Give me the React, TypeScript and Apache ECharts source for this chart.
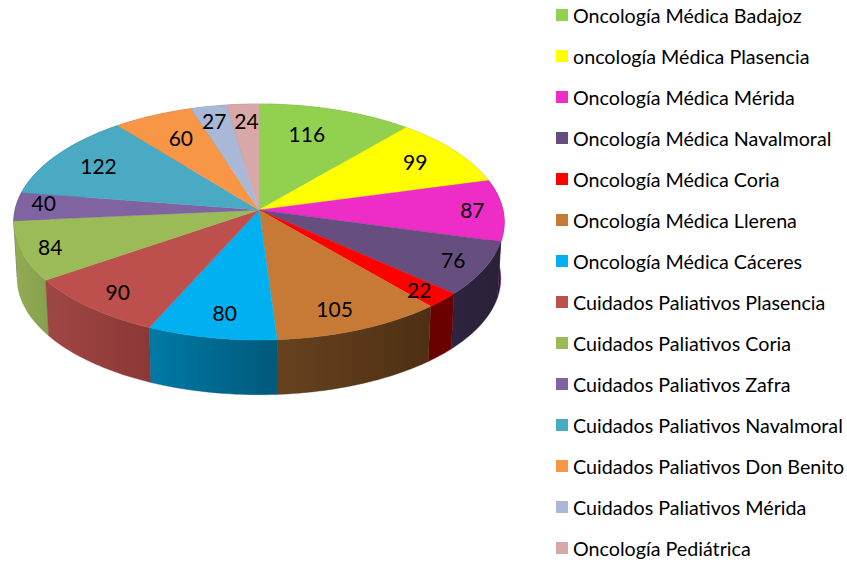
import React, { useEffect, useRef } from "react";
import * as echarts from "echarts";

const categories = [
  "Oncología Médica Badajoz",
  "oncología Médica Plasencia",
  "Oncología Médica Mérida",
  "Oncología Médica Navalmoral",
  "Oncología Médica Coria",
  "Oncología Médica Llerena",
  "Oncología Médica Cáceres",
  "Cuidados Paliativos Plasencia",
  "Cuidados Paliativos Coria",
  "Cuidados Paliativos Zafra",
  "Cuidados Paliativos Navalmoral",
  "Cuidados Paliativos Don Benito",
  "Cuidados Paliativos Mérida",
  "Oncología Pediátrica",
];
const values = [116, 99, 87, 76, 22, 105, 80, 90, 84, 40, 122, 60, 27, 24];
const topColors = ["#92d050", "#ffff00", "#ee2cc8", "#664f7f", "#ff0000", "#c77a35", "#00b0f0", "#bd4f4d", "#9bbb59", "#8064a2", "#4aa9c3", "#f79646", "#a8b8d6", "#d8a7a7"];
const wallStart = ["#5f8a33", "#8f8f00", "#2a2036", "#2e2440", "#6b0000", "#66421f", "#007aa6", "#a04744", "#93ab52", "#5a4673", "#2f7288", "#a9662f", "#76819a", "#977474"];
const wallEnd = ["#5f8a33", "#8f8f00", "#2a2036", "#2a2036", "#6b0000", "#4e2f14", "#00597a", "#8a3836", "#87a04e", "#5a4673", "#2f7288", "#a9662f", "#76819a", "#977474"];
const wallEdge = ["#5f8a33", "#8f8f00", "#9a1a84", "#2a2036", "#6b0000", "#4e2f14", "#00597a", "#8a3836", "#87a04e", "#5a4673", "#2f7288", "#a9662f", "#76819a", "#977474"];
const labelReach = [0.72, 0.8, 0.87, 0.86, 0.88, 0.8, 0.78, 0.84, 0.89, 0.885, 0.79, 0.75, 0.88, 0.82];
const labelNudgeX = [-9, -2, 1, 2, 0, -4, 2, -1, 2, 0, 0, 3, 0, 1];
const labelNudgeY = [-3, -1, -1, -1, 1, 5, 5, 1, 0, -4, 0, 0, 3, -1];

const CX = 259;
const CY = 210;
const RX = 244;
const RY = 116.8;
const K = 0.1017;
const BOTTOM_SCALE = 0.986;
const DEPTH = 56.5;

const total = values.reduce((a, b) => a + b, 0);
const angleAt = (v: number) => (v / total) * Math.PI * 2;
const starts = values.map((_, i) => values.slice(0, i).reduce((a, b) => a + b, 0));

function project(theta: number, r = 1): [number, number] {
  const d = -Math.cos(theta) * r;
  const s = Math.sin(theta) * r;
  const den = 1 - K * d;
  return [CX + (RX * s) / den, CY + (RY * d) / den];
}
function arc(from: number, to: number): [number, number][] {
  const n = Math.max(3, Math.ceil((to - from) / 0.02));
  const out: [number, number][] = [];
  for (let j = 0; j <= n; j++) out.push(project(from + ((to - from) * j) / n));
  return out;
}
const lower = (p: [number, number]): [number, number] => [
  CX + (p[0] - CX) * BOTTOM_SCALE,
  CY + (p[1] - CY) * BOTTOM_SCALE + DEPTH,
];

export default function App() {
  const ref = useRef<HTMLDivElement>(null);
  useEffect(() => {
    document.body.style.margin = "0";
    const chart = echarts.init(ref.current!, null, { renderer: "svg" });
    const series: any[] = [
      {
        type: "custom",
        name: "walls",
        coordinateSystem: "none",
        silent: true,
        z: 1,
        data: values.map((v, i) => [v, i]),
        renderItem: (_p: any, api: any) => {
          const i = api.value(1);
          const a0 = angleAt(starts[i]);
          const a1 = a0 + angleAt(api.value(0));
          const top = arc(a0, a1);
          const bottom = top.map(lower).reverse();
          const mid = (a0 + a1) / 2;
          return {
            type: "polygon",
            z2: Math.round(-Math.cos(mid) * 100) + 100,
            shape: { points: [...top, ...bottom] },
            style: {
              fill: {
                type: "linear", x: 0, y: 0, x2: 1, y2: 0,
                colorStops: [
                  { offset: 0, color: wallStart[i] },
                  { offset: 1, color: wallEnd[i] },
                ],
              },
              stroke: wallEdge[i],
              lineWidth: 0.4,
            },
          };
        },
      },
      ...categories.map((name, i) => ({
        type: "custom",
        name,
        coordinateSystem: "none",
        silent: true,
        z: 2,
        color: topColors[i],
        itemStyle: { color: topColors[i] },
        data: [[values[i]]],
        renderItem: (_p: any, api: any) => {
          const a0 = angleAt(starts[i]);
          const a1 = a0 + angleAt(api.value(0));
          return {
            type: "polygon",
            shape: { points: [[CX, CY], ...arc(a0, a1)] },
            style: { fill: topColors[i], stroke: topColors[i], lineWidth: 0.4 },
          };
        },
      })),
      {
        type: "custom",
        name: "labels",
        coordinateSystem: "none",
        silent: true,
        z: 3,
        data: values.map((v, i) => [v, i]),
        renderItem: (_p: any, api: any) => {
          const i = api.value(1);
          const v = api.value(0);
          const [x, y] = project(angleAt(starts[i] + v / 2), labelReach[i]);
          return {
            type: "text",
            style: {
              text: String(v), x: x + labelNudgeX[i], y: y + labelNudgeY[i],
              font: '21px Lato', fill: "#000000",
              align: "center", verticalAlign: "middle",
            },
          };
        },
      },
    ];
    chart.setOption({
      animation: false,
      backgroundColor: "#ffffff",
      legend: {
        orient: "vertical",
        left: 556,
        top: 5,
        padding: 0,
        icon: "rect",
        itemWidth: 12,
        itemHeight: 12,
        itemGap: 21,
        selectedMode: false,
        data: categories,
        textStyle: { fontFamily: "Lato", fontSize: 19.7, color: "#000000", lineHeight: 20, padding: [0, 0, 0, 0] },
      },
      series,
    });
    return () => chart.dispose();
  }, []);
  return <div ref={ref} style={{ width: 847, height: 562 }} />;
}
